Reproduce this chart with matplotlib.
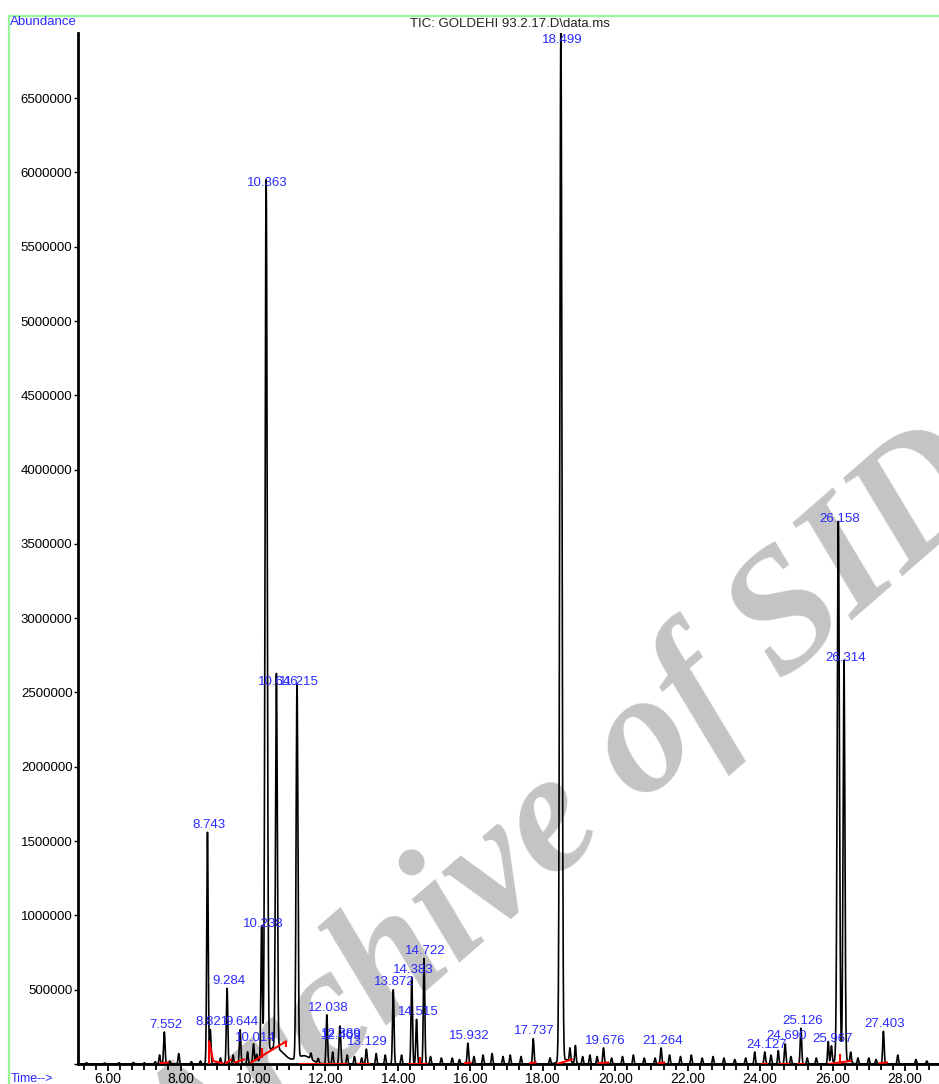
import numpy as np
import matplotlib.pyplot as plt
from matplotlib.patches import Rectangle
from matplotlib.ticker import MultipleLocator, AutoMinorLocator

plt.rcParams['font.family'] = ['Liberation Sans', 'DejaVu Sans']

# labelled peaks: retention time label, apex abundance, peak sigma (min)
peak_labels = ['7.552', '8.743', '8.821', '9.284', '9.644', '10.014', '10.238', '10.363',
               '10.646', '11.215', '12.038', '12.389', '12.409', '13.129', '13.872',
               '14.383', '14.515', '14.722', '15.932', '17.737', '18.499', '19.676',
               '21.264', '24.127', '24.690', '25.126', '25.967', '26.158', '26.314', '27.403']
peak_heights = [215e3, 1560e3, 230e3, 510e3, 230e3, 128e3, 890e3, 5880e3,
                2520e3, 2520e3, 330e3, 150e3, 140e3, 100e3, 500e3,
                585e3, 300e3, 710e3, 140e3, 170e3, 6950e3, 108e3,
                108e3, 80e3, 135e3, 240e3, 115e3, 3620e3, 2680e3, 220e3]
peak_sigma = [0.02, 0.02, 0.02, 0.02, 0.02, 0.02, 0.02, 0.03,
              0.025, 0.025, 0.02, 0.02, 0.02, 0.02, 0.02,
              0.02, 0.02, 0.02, 0.02, 0.02, 0.03, 0.02,
              0.02, 0.02, 0.02, 0.02, 0.02, 0.03, 0.025, 0.02]

# small unlabelled peaks along the baseline
minor_rt = [5.4, 5.9, 6.3, 6.7, 7.0, 7.3, 7.42, 7.7, 7.95, 8.3, 8.55, 9.1, 9.45, 9.85,
            10.1, 11.6, 11.8, 12.2, 12.6, 12.8, 13.0, 13.4, 13.65, 14.1, 14.9, 15.2,
            15.5, 15.7, 16.1, 16.35, 16.6, 16.9, 17.1, 17.4, 18.2, 18.75, 18.9, 19.1,
            19.3, 19.5, 19.9, 20.2, 20.5, 20.8, 21.1, 21.5, 21.8, 22.1, 22.4, 22.7,
            23.0, 23.3, 23.6, 23.85, 24.3, 24.5, 24.85, 25.3, 25.55, 25.88, 26.5,
            26.7, 27.0, 27.2, 27.8, 28.3, 28.6]
minor_h = [8e3, 6e3, 8e3, 10e3, 8e3, 15e3, 60e3, 20e3, 70e3, 15e3, 20e3, 40e3, 60e3, 80e3,
           50e3, 40e3, 30e3, 80e3, 60e3, 50e3, 40e3, 70e3, 60e3, 60e3, 50e3, 40e3,
           40e3, 30e3, 50e3, 60e3, 70e3, 50e3, 60e3, 50e3, 40e3, 90e3, 120e3, 50e3,
           60e3, 50e3, 40e3, 50e3, 60e3, 40e3, 40e3, 60e3, 50e3, 60e3, 40e3, 50e3,
           40e3, 30e3, 40e3, 80e3, 60e3, 90e3, 50e3, 40e3, 40e3, 150e3, 70e3,
           40e3, 40e3, 30e3, 60e3, 30e3, 20e3]

# broad humps under the main peaks
hump_rt = [10.6, 11.4, 18.6, 26.25]
hump_h = [110e3, 55e3, 30e3, 40e3]
hump_sigma = [0.25, 0.2, 0.15, 0.15]

# red integration baselines (t0, y0, t1, y1)
red_t0 = [7.45, 8.79, 8.79, 8.9, 9.25, 9.5, 9.95, 10.24, 10.9, 11.3, 11.95, 12.9, 14.3,
          14.6, 15.85, 17.65, 18.4, 19.55, 21.2, 24.05, 24.55, 25.05, 25.9, 26.2, 27.3]
red_y0 = [5e3, 0, 150e3, 20e3, 5e3, 10e3, 10e3, 50e3, 150e3, 0, 0, 0, 0,
          0, 5e3, 5e3, 0, 5e3, 5e3, 0, 0, 0, 0, 0, 5e3]
red_t1 = [7.65, 8.79, 8.9, 9.15, 9.4, 9.75, 10.9, 10.24, 10.9, 11.9, 12.6, 13.2, 14.8,
          14.6, 16.0, 17.8, 18.8, 19.8, 21.35, 24.2, 24.8, 25.2, 26.5, 26.2, 27.5]
red_y1 = [10e3, 150e3, 20e3, 5e3, 30e3, 30e3, 150e3, 100e3, 120e3, 0, 0, 0, 0,
          40e3, 10e3, 10e3, 30e3, 10e3, 10e3, 0, 0, 0, 20e3, 60e3, 10e3]

xmin, xmax = 5.17, 28.94
ymax = 6.938e6

t = np.linspace(xmin, xmax, 9000)
signal = np.zeros_like(t)
for lab, h, s in zip(peak_labels, peak_heights, peak_sigma):
    signal += h * np.exp(-0.5 * ((t - float(lab)) / s) ** 2)
for rt, h in zip(minor_rt, minor_h):
    signal += h * np.exp(-0.5 * ((t - rt) / 0.018) ** 2)
for rt, h, s in zip(hump_rt, hump_h, hump_sigma):
    signal += h * np.exp(-0.5 * ((t - rt) / s) ** 2)

fig = plt.figure(figsize=(9.39, 10.84), dpi=100)
ax = fig.add_axes([0.0831, 0.0185, 0.917, 0.951])
ax.set_zorder(2)

ax.plot(t, signal, color='black', lw=1.2, zorder=2)
for a, b, c, d in zip(red_t0, red_y0, red_t1, red_y1):
    ax.plot([a, c], [b, d], color='red', lw=1.5, zorder=3)

blue = '#2a2aff'
for lab, h in zip(peak_labels, peak_heights):
    ax.annotate(lab, (float(lab), min(h, 6.84e6)), xytext=(1, 1), textcoords='offset points',
                ha='center', va='bottom', color=blue, fontsize=9.5, zorder=4)

ax.set_xlim(xmin, xmax)
ax.set_ylim(0, ymax)
ax.xaxis.set_major_locator(MultipleLocator(2))
ax.xaxis.set_minor_locator(AutoMinorLocator(6))
ax.yaxis.set_major_locator(MultipleLocator(500000))
ax.xaxis.set_major_formatter(lambda v, p: f'{v:.2f}')
ax.yaxis.set_major_formatter(lambda v, p: '' if v == 0 else f'{int(v)}')
ax.tick_params(axis='x', which='major', length=5, width=1.3, labelsize=10, pad=0.5)
ax.tick_params(axis='x', which='minor', length=4, width=1.3)
ax.tick_params(axis='y', which='major', length=3, width=1, labelsize=9.5, pad=1)
for side in ['top', 'right']:
    ax.spines[side].set_visible(False)
for side in ['left', 'bottom']:
    ax.spines[side].set_linewidth(2)
ax.patch.set_alpha(0)

fig.add_artist(Rectangle((0.0096, -0.1), 1.2, 1.085, transform=fig.transFigure,
                         fill=False, edgecolor='#99f599', lw=1.6))
fig.text(0.011, 0.980, 'Abundance', color=blue, fontsize=9.5, ha='left', va='center')
fig.text(0.011, 0.005, 'Time-->', color=blue, fontsize=9, ha='left', va='center')
fig.text(0.543, 0.978, 'TIC: GOLDEHI 93.2.17.D\\data.ms', color='#222222', fontsize=9.5,
         ha='center', va='center')

# watermark, behind the chromatogram
fig.text(0.605, 0.245, 'Archive of SID', rotation=41, fontsize=124, family='Liberation Serif',
         style='italic', weight='bold', color='#c4c4c4', ha='center', va='center', zorder=1)

fig.savefig('out.png', dpi=100)
